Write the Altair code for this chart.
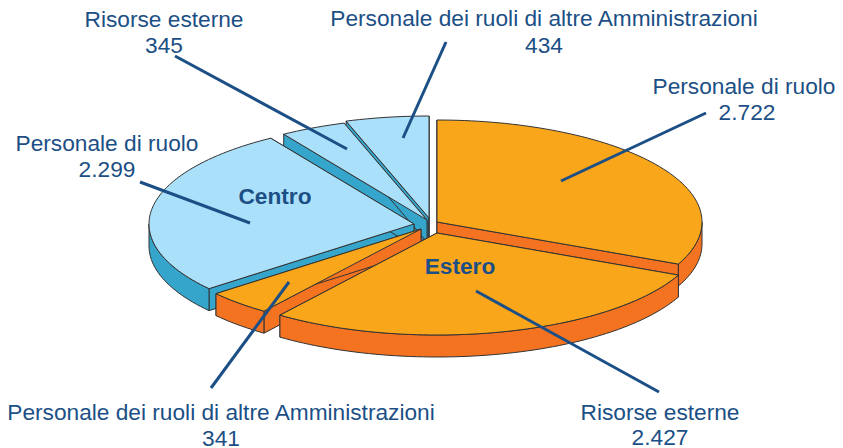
import math
import altair as alt

# --- data ---
slice_labels = ["Personale di ruolo", "Risorse esterne",
                "Personale dei ruoli di altre Amministrazioni",
                "Personale di ruolo", "Risorse esterne",
                "Personale dei ruoli di altre Amministrazioni"]
slice_values = [2722, 2427, 341, 2299, 345, 434]
slice_groups = ["Estero", "Estero", "Estero", "Centro", "Centro", "Centro"]
value_texts = ["2.722", "2.427", "341", "2.299", "345", "434"]

# --- layout (image pixels) ---
apex_x = [437, 437, 421, 414, 427, 429]
apex_y = [222, 233, 229, 224, 220, 218]
RX, RY, DEPTH = 265, 102, 22
draw_order = [5, 4, 0, 3, 2, 1]
top_colors = {"Estero": "#FAA61A", "Centro": "#ABE0FB"}
wall_colors = {"Estero": "#F47321", "Centro": "#36A5CC"}
TEXT_COLOR = "#1B4F85"
label_x = [744, 660, 221, 107, 164, 544]
value_x = [747, 660, 221, 107, 164, 544]
label_y = [87, 413, 413, 144, 20, 19]
value_y = [113, 438, 438.5, 170, 46, 46]
leader_from_x = [706, 659, 211, 140, 175, 446]
leader_from_y = [113, 392, 388, 182, 56, 42]
leader_to_x = [561, 476, 289, 250, 347, 403]
leader_to_y = [181, 291, 282, 223, 149, 138]
group_names = ["Centro", "Estero"]
group_x = [275, 460]
group_y = [197, 267]

W, H = 827, 440
xs = alt.Scale(domain=[8, 8 + W], range=[0, W])
ys = alt.Scale(domain=[8, 8 + H], range=[0, H])


def ell(cx, cy, deg, dz=0):
    a = math.radians(deg)
    return [cx + RX * math.sin(a), cy - RY * math.cos(a) + dz]


def poly(points, fill):
    ring = [list(p) for p in points] + [list(points[0])]
    return {"type": "Feature", "properties": {"fill": fill},
            "geometry": {"type": "Polygon", "coordinates": [ring]}}


def sweep(start, end, step=1.5):
    n = max(2, int((end - start) / step))
    return [start + (end - start) * k / n for k in range(n + 1)]


total = sum(slice_values)
starts, acc = [], 0.0
for v in slice_values:
    starts.append(acc)
    acc += v / total * 360

features = []
for i in draw_order:
    cx, cy = apex_x[i], apex_y[i]
    a0 = starts[i]
    a1 = a0 + slice_values[i] / total * 360
    wall = wall_colors[slice_groups[i]]
    apex = [cx, cy]
    apex_low = [cx, cy + DEPTH]
    # radial walls
    for a in (a0, a1):
        features.append(poly([apex, ell(cx, cy, a), ell(cx, cy, a, DEPTH), apex_low], wall))
    # outer wall: only the front-facing part of the rim
    f0, f1 = max(a0, 90), min(a1, 270)
    if f1 > f0:
        front = sweep(f0, f1)
        features.append(poly([ell(cx, cy, a) for a in front]
                             + [ell(cx, cy, a, DEPTH) for a in front[::-1]], wall))
    # top face
    features.append(poly([apex] + [ell(cx, cy, a) for a in sweep(a0, a1)],
                         top_colors[slice_groups[i]]))

pie = (
    alt.Chart(alt.Data(values=features))
    .mark_geoshape(stroke="#333333", strokeWidth=1, strokeJoin="miter")
    .encode(fill=alt.Fill("properties.fill:N", scale=None, legend=None))
    .project(type="identity", scale=1, translate=[-8, -8])
)

leaders = (
    alt.Chart(alt.Data(values=[
        {"x": a, "y": b, "x2": c, "y2": d}
        for a, b, c, d in zip(leader_from_x, leader_from_y, leader_to_x, leader_to_y)
    ]))
    .mark_rule(color=TEXT_COLOR, strokeWidth=3)
    .encode(
        x=alt.X("x:Q", scale=xs, axis=None),
        y=alt.Y("y:Q", scale=ys, axis=None),
        x2="x2:Q",
        y2="y2:Q",
    )
)

text_rows = []
for i in range(6):
    text_rows.append({"t": slice_labels[i], "x": label_x[i], "y": label_y[i]})
    text_rows.append({"t": value_texts[i], "x": value_x[i], "y": value_y[i]})

labels = (
    alt.Chart(alt.Data(values=text_rows))
    .mark_text(font="Liberation Sans", fontSize=22.7, color=TEXT_COLOR,
               align="center", baseline="middle")
    .encode(x=alt.X("x:Q", scale=xs, axis=None),
            y=alt.Y("y:Q", scale=ys, axis=None),
            text="t:N")
)

groups = (
    alt.Chart(alt.Data(values=[
        {"t": t, "x": a, "y": b} for t, a, b in zip(group_names, group_x, group_y)
    ]))
    .mark_text(font="Liberation Sans", fontSize=22.7, fontWeight="bold",
               color=TEXT_COLOR, align="center", baseline="middle")
    .encode(x=alt.X("x:Q", scale=xs, axis=None),
            y=alt.Y("y:Q", scale=ys, axis=None),
            text="t:N")
)

chart = (
    alt.layer(pie, leaders, labels, groups)
    .properties(width=W, height=H, padding=0, background="white",
                autosize=alt.AutoSizeParams(type="none"))
    .configure_view(stroke=None)
)
chart.save("out.html", embed_options={"renderer": "svg", "actions": False})
